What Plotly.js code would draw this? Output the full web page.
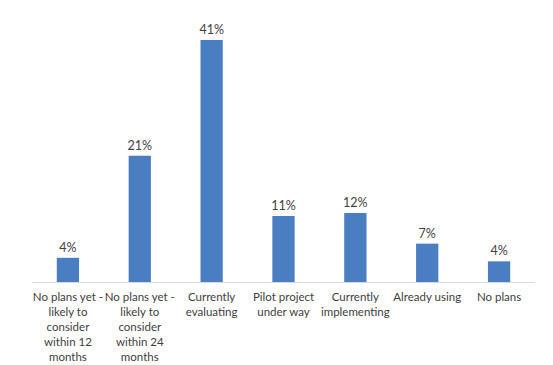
<!DOCTYPE html>
<html>
<head>
<meta charset="utf-8">
<script src="https://cdn.plot.ly/plotly-3.0.1.min.js"></script>
<style>html,body{margin:0;padding:0;background:#fff;}#chart{width:553px;height:365px;}</style>
</head>
<body>
<div id="chart"></div>
<script>
const categories = [
  "No plans yet -<br>likely to<br>consider<br>within 12<br>months",
  "No plans yet -<br>likely to<br>consider<br>within 24<br>months",
  "Currently<br>evaluating",
  "Pilot project<br>under way",
  "Currently<br>implementing",
  "Already using",
  "No plans"
];
// bar heights (percent)
const values = [4.1, 21.4, 41.0, 11.2, 11.7, 6.5, 3.5];
// data labels as printed on the chart
const valueLabels = ["4%", "21%", "41%", "11%", "12%", "7%", "4%"];

const trace = {
  type: "bar",
  x: categories,
  y: values,
  text: valueLabels,
  textposition: "outside",
  constraintext: "none",
  cliponaxis: false,
  textfont: {family: "Lato, Open Sans, sans-serif", size: 12.5, color: "#404040"},
  marker: {color: "#4a7ec3"},
  hoverinfo: "none"
};

const layout = {
  width: 553,
  height: 365,
  margin: {l: 32, r: 18, t: 16, b: 83},
  paper_bgcolor: "#fff",
  plot_bgcolor: "#fff",
  bargap: 0.69,
  showlegend: false,
  font: {family: "Lato, Open Sans, sans-serif", size: 11.5, color: "#404040"},
  xaxis: {
    type: "category",
    showline: true,
    linecolor: "#d9d9d9",
    linewidth: 1,
    ticks: "",
    showgrid: false,
    tickangle: 0,
    ticklabelstandoff: 4,
    tickfont: {size: 11.5, color: "#404040"},
    automargin: false
  },
  yaxis: {
    range: [0, 45.07],
    visible: false,
    showgrid: false,
    zeroline: false
  }
};

Plotly.newPlot("chart", [trace], layout, {displayModeBar: false, staticPlot: true});
</script>
</body>
</html>
